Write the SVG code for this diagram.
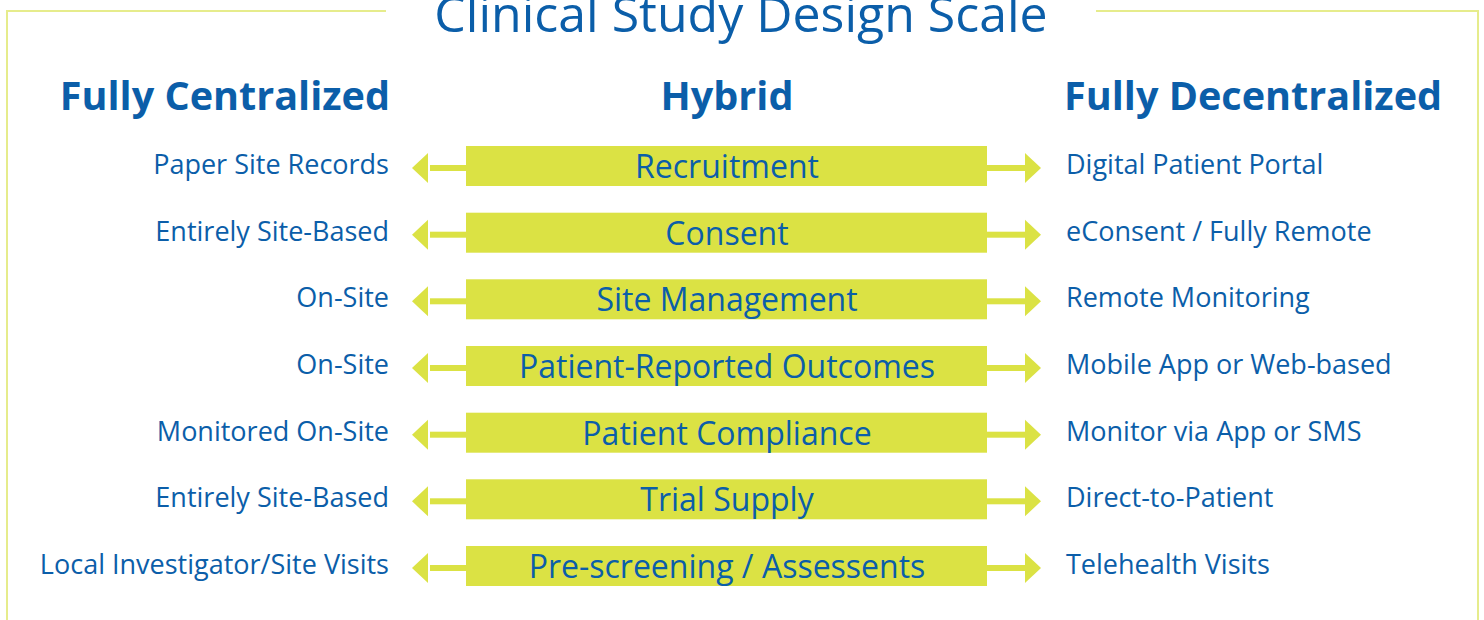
<svg xmlns="http://www.w3.org/2000/svg" width="1484" height="620" viewBox="0 0 1484 620">
<defs>
<style>
.frame{fill:none;stroke:#e6ec8c;stroke-width:2}
.title{font-family:"Open Sans",sans-serif;font-size:50px;fill:#0b5ea9;text-anchor:middle}
.head{font-family:"Open Sans",sans-serif;font-weight:bold;font-size:39.6px;fill:#0b5ea9}
.lab{font-family:"Open Sans",sans-serif;font-size:27px;fill:#0b5ea9}
.bartxt{font-family:"Open Sans",sans-serif;font-size:32px;fill:#0b5ea9;text-anchor:middle}
.bar{fill:#dbe244}
.arr{fill:#dbe244}
</style>
<g id="arrowpair">
<rect class="bar" x="430" y="19" width="40" height="6"/>
<polygon class="arr" points="412,22 428,7 428,37"/>
<rect class="bar" x="985" y="19" width="42" height="6"/>
<polygon class="arr" points="1041,22 1025,7 1025,37"/>
</g>
</defs>
<path class="frame" d="M386,11 H7 V620 M1096,11 H1478 V620"/>
<text class="title" x="741" y="32">Clinical Study Design Scale</text>
<g id="headings">
<text class="head" x="390" y="110" text-anchor="end">Fully Centralized</text>
<text class="head" x="727" y="110" text-anchor="middle">Hybrid</text>
<text class="head" x="1064" y="110">Fully Decentralized</text>
</g>
<g id="connectors">
<use href="#arrowpair" y="146"/>
<use href="#arrowpair" y="212.7"/>
<use href="#arrowpair" y="279.3"/>
<use href="#arrowpair" y="346"/>
<use href="#arrowpair" y="412.7"/>
<use href="#arrowpair" y="479.3"/>
<use href="#arrowpair" y="546"/>
</g>
<g id="row1">
<text class="lab" x="389" y="174" text-anchor="end">Paper Site Records</text>
<rect class="bar" x="466" y="146" width="521" height="40"/>
<text class="bartxt" x="727" y="178">Recruitment</text>
<text class="lab" x="1066" y="174">Digital Patient Portal</text>
</g>
<g id="row2">
<text class="lab" x="389" y="240.7" text-anchor="end">Entirely Site-Based</text>
<rect class="bar" x="466" y="212.7" width="521" height="40"/>
<text class="bartxt" x="727" y="244.7">Consent</text>
<text class="lab" x="1066" y="240.7">eConsent / Fully Remote</text>
</g>
<g id="row3">
<text class="lab" x="389" y="307.3" text-anchor="end">On-Site</text>
<rect class="bar" x="466" y="279.3" width="521" height="40"/>
<text class="bartxt" x="727" y="311.3">Site Management</text>
<text class="lab" x="1066" y="307.3">Remote Monitoring</text>
</g>
<g id="row4">
<text class="lab" x="389" y="374" text-anchor="end">On-Site</text>
<rect class="bar" x="466" y="346" width="521" height="40"/>
<text class="bartxt" x="727" y="378">Patient-Reported Outcomes</text>
<text class="lab" x="1066" y="374">Mobile App or Web-based</text>
</g>
<g id="row5">
<text class="lab" x="389" y="440.7" text-anchor="end">Monitored On-Site</text>
<rect class="bar" x="466" y="412.7" width="521" height="40"/>
<text class="bartxt" x="727" y="444.7">Patient Compliance</text>
<text class="lab" x="1066" y="440.7">Monitor via App or SMS</text>
</g>
<g id="row6">
<text class="lab" x="389" y="507.3" text-anchor="end">Entirely Site-Based</text>
<rect class="bar" x="466" y="479.3" width="521" height="40"/>
<text class="bartxt" x="727" y="511.3">Trial Supply</text>
<text class="lab" x="1066" y="507.3">Direct-to-Patient</text>
</g>
<g id="row7">
<text class="lab" x="389" y="574" text-anchor="end">Local Investigator/Site Visits</text>
<rect class="bar" x="466" y="546" width="521" height="40"/>
<text class="bartxt" x="727" y="578">Pre-screening / Assessents</text>
<text class="lab" x="1066" y="574">Telehealth Visits</text>
</g>
</svg>
